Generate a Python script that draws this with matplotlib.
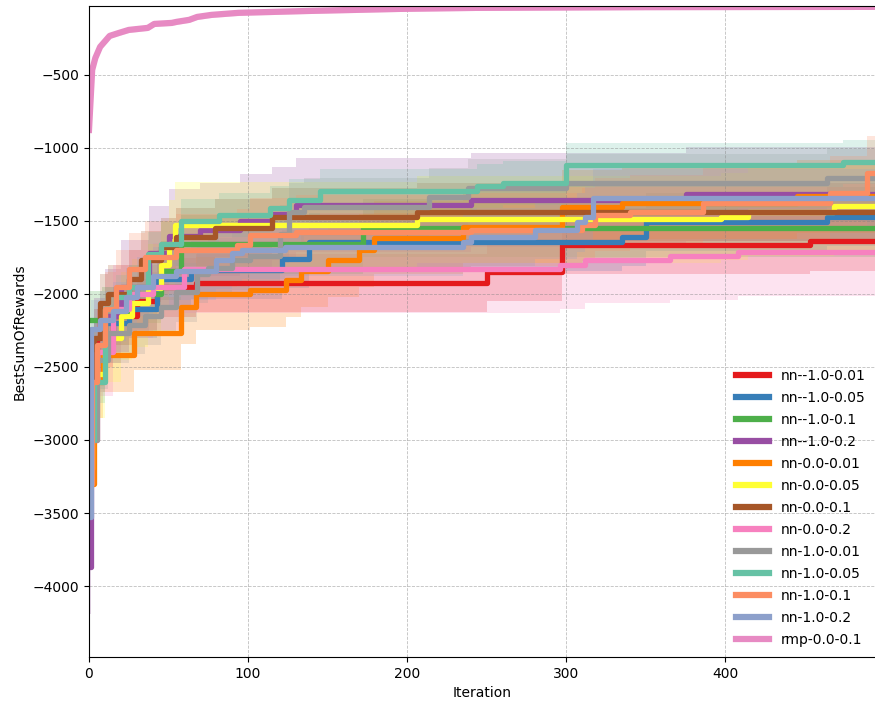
import numpy as np
import matplotlib
matplotlib.use('Agg')
import matplotlib.pyplot as plt

# change points (iteration, best sum of rewards)
red_x = [0, 2, 5, 15, 30, 43, 67, 250, 297, 453]
red_y = [-3300, -2600, -2300, -2150, -2050, -1955, -1925, -1850, -1665, -1640]

blue_x = [0, 3, 10, 25, 43, 64, 121, 138, 335, 350, 464]
blue_y = [-3000, -2400, -2200, -2100, -1900, -1835, -1760, -1645, -1610, -1507, -1470]

green_x = [0, 8, 25, 45, 58, 172]
green_y = [-2180, -2150, -2000, -1840, -1660, -1550]

purple_x = [0, 1, 3, 10, 20, 38, 50, 70, 95, 115, 130, 240, 375]
purple_y = [-3870, -2900, -2350, -2150, -1950, -1720, -1600, -1560, -1500, -1450, -1390, -1356, -1315]

orange_x = [0, 3, 9, 28, 58, 67, 101, 124, 133, 150, 170, 179, 235, 297, 335, 445]
orange_y = [-3300, -2600, -2420, -2270, -2090, -2000, -1975, -1905, -1840, -1770, -1700, -1616, -1541, -1404, -1377, -1330]

yellow_x = [0, 2, 5, 10, 20, 27, 37, 45, 50, 54, 206, 397, 414, 468]
yellow_y = [-3200, -2700, -2550, -2300, -2150, -2060, -1960, -1800, -1660, -1530, -1490, -1470, -1440, -1400]

brown_x = [0, 3, 7, 12, 25, 33, 45, 55, 79, 115, 206]
brown_y = [-3000, -2300, -2060, -2000, -1900, -1770, -1680, -1610, -1550, -1475, -1440]

pink_x = [0, 5, 15, 25, 40, 60, 296, 312, 365, 408]
pink_y = [-3000, -2400, -2100, -2000, -1950, -1830, -1800, -1765, -1740, -1712]

gray_x = [0, 5, 12, 25, 35, 45, 55, 68, 75, 90, 101, 120, 126, 135, 214, 238, 300, 464]
gray_y = [-3000, -2450, -2270, -2210, -2150, -2090, -1990, -1860, -1820, -1770, -1740, -1590,
          -1440, -1404, -1336, -1274, -1240, -1205]

teal_x = [0, 3, 10, 17, 25, 37, 45, 58, 82, 114, 126, 145, 244, 260, 300, 474]
teal_y = [-3000, -2600, -2100, -2020, -1950, -1725, -1660, -1500, -1460, -1410, -1360, -1294,
          -1260, -1240, -1116, -1096]

salmon_x = [0, 2, 5, 10, 17, 25, 35, 55, 93, 101, 130, 240, 310, 318, 340, 386, 466, 489]
salmon_y = [-3300, -2600, -2350, -2100, -1950, -1830, -1750, -1700, -1665, -1596, -1575, -1562,
            -1527, -1459, -1438, -1377, -1308, -1171]

lav_x = [0, 1, 7, 15, 23, 30, 40, 55, 80, 90, 96, 123, 235, 240, 280, 307, 312, 317]
lav_y = [-3530, -2240, -2180, -2120, -2020, -1950, -1880, -1840, -1767, -1720, -1699, -1678,
         -1644, -1610, -1562, -1510, -1470, -1342]

rmp_x = [0, 2, 4, 7, 13, 19, 25, 37, 41, 52, 55, 63, 68, 77, 94, 138, 195, 243, 350, 499]
rmp_y = [-877, -466, -384, -308, -233, -212, -192, -178, -151, -144, -137, -123, -103, -89, -75,
         -62, -48, -41, -36, -34]

# half width of the shaded band around each curve
spread = [200, 200, 200, 320, 250, 300, 200, 300, 200, 150, 250, 200, 18]

labels = ['nn--1.0-0.01', 'nn--1.0-0.05', 'nn--1.0-0.1', 'nn--1.0-0.2',
          'nn-0.0-0.01', 'nn-0.0-0.05', 'nn-0.0-0.1', 'nn-0.0-0.2',
          'nn-1.0-0.01', 'nn-1.0-0.05', 'nn-1.0-0.1', 'nn-1.0-0.2', 'rmp-0.0-0.1']
colors = ['#e41a1c', '#377eb8', '#4daf4a', '#984ea3', '#ff7f00', '#ffff33', '#a65628',
          '#f781bf', '#999999', '#66c2a5', '#fc8d62', '#8da0cb', '#e78ac3']

series = [(red_x, red_y), (blue_x, blue_y), (green_x, green_y), (purple_x, purple_y),
          (orange_x, orange_y), (yellow_x, yellow_y), (brown_x, brown_y), (pink_x, pink_y),
          (gray_x, gray_y), (teal_x, teal_y), (salmon_x, salmon_y), (lav_x, lav_y),
          (rmp_x, rmp_y)]

last_iter = 499

fig = plt.figure(figsize=(8.75, 7.02), dpi=100)
ax = fig.add_axes([0.1017, 0.0641, 0.8983, 0.9274])

for (xs, ys), lab, col, s in zip(series, labels, colors, spread):
    xs = np.array(list(xs) + [last_iter])
    ys = np.array(list(ys) + [ys[-1]])
    if lab.startswith('rmp'):
        ax.fill_between(xs, ys - s, ys + s, color=col, alpha=0.25, lw=0)
        ax.plot(xs, ys, color=col, lw=4.5, label=lab)
    else:
        ax.fill_between(xs, ys - s, ys + s, step='post', color=col, alpha=0.22, lw=0)
        ax.plot(xs, ys, color=col, lw=3.8, drawstyle='steps-post', label=lab)

ax.set_xlim(0, 494)
ax.set_ylim(-4486, -28)
ax.set_xticks([0, 100, 200, 300, 400])
ax.set_yticks([-4000, -3500, -3000, -2500, -2000, -1500, -1000, -500])
ax.grid(True, linestyle='--', color='gray', alpha=0.5, lw=0.6)
ax.spines['right'].set_visible(False)
ax.set_xlabel('Iteration')
ax.set_ylabel('BestSumOfRewards')

leg = ax.legend(loc='lower right', frameon=False, handlelength=2.4, labelspacing=0.58,
                fontsize=10, borderaxespad=0.3)
for line in leg.get_lines():
    line.set_linewidth(4.5)

fig.savefig('out.png', dpi=100)
